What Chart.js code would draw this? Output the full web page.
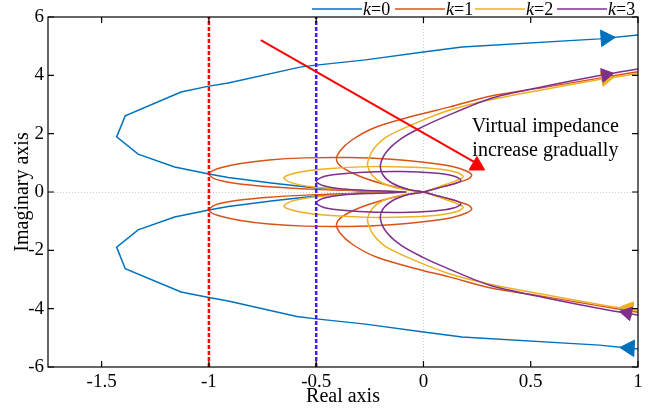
<!DOCTYPE html>
<html lang="en">
<head>
<meta charset="UTF-8">
<title>Nyquist plot</title>
<style>
    body { margin: 0; background: #fff; }
    #myChart { display: block; }
</style>
</head>
<body>
<canvas id="myChart" width="652" height="408"></canvas>
<script src="https://cdn.jsdelivr.net/npm/chart.js"></script>
<script>
// axis ticks
var xTicks = [-1.5, -1, -0.5, 0, 0.5, 1];
var yTicks = [-6, -4, -2, 0, 2, 4, 6];
var kLabels = ['0', '1', '2', '3'];

// k=0 : lower branch (w -> -inf) in towards the real axis, then out along the upper branch
var k0X = [1.0, 0.82, 0.18, 0.0, -0.27, -0.5, -0.59, -0.91, -1.0, -1.13, -1.39, -1.43, -1.33, -1.16, -1.0, -0.91, -0.7, -0.5, -0.3, -0.2,
           -0.3, -0.5, -0.7, -0.91, -1.0, -1.16, -1.33, -1.43, -1.39, -1.13, -1.0, -0.91, -0.57, -0.5, -0.27, 0.0, 0.18, 0.82, 1.0];
var k0Y = [-5.38, -5.25, -4.97, -4.8, -4.53, -4.35, -4.27, -3.74, -3.62, -3.43, -2.63, -1.89, -1.3, -0.86, -0.62, -0.5, -0.3, -0.14, -0.04, 0,
           0.04, 0.14, 0.3, 0.5, 0.62, 0.86, 1.3, 1.89, 2.61, 3.43, 3.63, 3.74, 4.29, 4.35, 4.53, 4.8, 4.97, 5.25, 5.38];

// k=1
var k1X = [1.0, 0.84, 0.55, 0.31, 0.12, -0.03, -0.22, -0.33, -0.39, -0.405, -0.38, -0.3, -0.2, -0.1, 0,
           0.07, 0.15, 0.21, 0.225, 0.2, 0.13, 0.0, -0.15, -0.35, -0.55, -0.72, -0.86, -0.96, -1.0, -0.97, -0.88, -0.72, -0.5, -0.3, -0.08,
           -0.3, -0.5, -0.72, -0.88, -0.97, -1.0, -0.96, -0.86, -0.72, -0.55, -0.35, -0.15, 0.0, 0.13, 0.2, 0.225, 0.21, 0.15, 0.07, 0,
           -0.1, -0.2, -0.3, -0.38, -0.405, -0.39, -0.33, -0.22, -0.03, 0.12, 0.31, 0.55, 0.84, 1.0];
var k1Y = [-4.12, -3.93, -3.57, -3.28, -2.91, -2.64, -2.23, -1.8, -1.4, -1.1, -0.85, -0.55, -0.3, -0.12, 0,
           0.15, 0.3, 0.45, 0.58, 0.72, 0.88, 1.02, 1.12, 1.18, 1.17, 1.1, 0.97, 0.8, 0.62, 0.44, 0.3, 0.18, 0.09, 0.04, 0,
           -0.04, -0.09, -0.18, -0.3, -0.44, -0.62, -0.8, -0.97, -1.1, -1.17, -1.18, -1.12, -1.02, -0.88, -0.72, -0.58, -0.45, -0.3, -0.15, 0,
           0.12, 0.3, 0.55, 0.85, 1.1, 1.4, 1.8, 2.23, 2.64, 2.91, 3.28, 3.57, 3.93, 4.12];

// k=2
var k2X = [1.0, 0.84, 0.55, 0.31, 0.12, -0.03, -0.17, -0.23, -0.255, -0.26, -0.24, -0.19, -0.1, 0,
           0.08, 0.15, 0.185, 0.16, 0.08, -0.05, -0.25, -0.45, -0.58, -0.65, -0.62, -0.52, -0.35, -0.2, -0.08,
           -0.2, -0.35, -0.52, -0.62, -0.65, -0.58, -0.45, -0.25, -0.05, 0.08, 0.16, 0.185, 0.15, 0.08, 0,
           -0.1, -0.19, -0.24, -0.26, -0.255, -0.23, -0.17, -0.03, 0.12, 0.31, 0.55, 0.84, 1.0];
var k2Y = [-4.06, -3.88, -3.5, -3.16, -2.8, -2.38, -1.9, -1.5, -1.15, -0.9, -0.58, -0.3, -0.1, 0,
           0.2, 0.38, 0.52, 0.66, 0.78, 0.85, 0.87, 0.8, 0.68, 0.5, 0.33, 0.18, 0.08, 0.03, 0,
           -0.03, -0.08, -0.18, -0.33, -0.5, -0.68, -0.8, -0.87, -0.85, -0.78, -0.66, -0.52, -0.38, -0.2, 0,
           0.1, 0.3, 0.58, 0.9, 1.15, 1.5, 1.9, 2.38, 2.8, 3.16, 3.5, 3.88, 4.06];

// k=3
var k3X = [1.0, 0.84, 0.55, 0.31, 0.09, 0.0, -0.1, -0.17, -0.2, -0.19, -0.145, -0.066, 0,
           0.07, 0.14, 0.175, 0.14, 0.05, -0.1, -0.3, -0.45, -0.5, -0.47, -0.38, -0.22, -0.08,
           -0.22, -0.38, -0.47, -0.5, -0.45, -0.3, -0.1, 0.05, 0.14, 0.175, 0.14, 0.07, 0,
           -0.066, -0.145, -0.19, -0.2, -0.17, -0.1, 0.0, 0.09, 0.31, 0.55, 0.84, 1.0];
var k3Y = [-4.22, -4.02, -3.6, -3.2, -2.55, -2.25, -1.85, -1.4, -0.95, -0.6, -0.3, -0.08, 0,
           0.14, 0.27, 0.4, 0.55, 0.65, 0.7, 0.67, 0.56, 0.38, 0.22, 0.1, 0.04, 0,
           -0.04, -0.1, -0.22, -0.38, -0.56, -0.67, -0.7, -0.65, -0.55, -0.4, -0.27, -0.14, 0,
           0.08, 0.3, 0.6, 0.95, 1.4, 1.85, 2.25, 2.55, 3.2, 3.6, 4.02, 4.22];

// direction arrows on each curve (upper one points out, lower one points in)
var k0ArrowX = [0.85, 0.96], k0ArrowY = [5.28, -5.35];
var k1ArrowX = [0.85, 0.955], k1ArrowY = [3.92, -4.02];
var k2ArrowX = [0.85, 0.955], k2ArrowY = [3.88, -3.98];
var k3ArrowX = [0.85, 0.95],  k3ArrowY = [4.02, -4.15];

// stability boundaries
var redLineX = [-1, -1], blueLineX = [-0.5, -0.5], boundY = [-6, 6];

// "virtual impedance increase" arrow: start, end of shaft, head
var trendX = [-0.758, 0.234], trendY = [5.21, 1.045];
var trendHeadX = [0.249], trendHeadY = [0.91];
var noteLines = ['Virtual impedance', 'increase gradually'];

var colors = ['#0072BD', '#D95319', '#EDB120', '#7E2F8E'];

function pts(xs, ys) {
    return xs.map(function(x, i) { return { x: x, y: ys[i] }; });
}

function curve(xs, ys, color, tension, order) {
    return { data: pts(xs, ys), showLine: true, borderColor: color, borderWidth: 1.5,
             pointRadius: 0, tension: tension, fill: false, order: order };
}

function arrows(xs, ys, color, rot, r, order) {
    return { data: pts(xs, ys), showLine: false, pointStyle: 'triangle', pointRadius: r,
             pointRotation: rot, backgroundColor: color, borderColor: color, borderWidth: 1, order: order };
}

var framePlugin = {
    id: 'frame',
    beforeDatasetsDraw: function(chart) {
        var ctx = chart.ctx, a = chart.chartArea;
        var x0 = Math.round(chart.scales.x.getPixelForValue(0)) + 0.5;
        var y0 = Math.round(chart.scales.y.getPixelForValue(0)) + 0.5;
        ctx.save();
        ctx.strokeStyle = '#cccccc';
        ctx.lineWidth = 1;
        ctx.setLineDash([1, 2]);
        ctx.beginPath();
        ctx.moveTo(x0, a.top); ctx.lineTo(x0, a.bottom);
        ctx.moveTo(a.left, y0); ctx.lineTo(a.right, y0);
        ctx.stroke();
        ctx.restore();
    },
    afterDatasetsDraw: function(chart) {
        var ctx = chart.ctx, a = chart.chartArea;
        var xs = chart.scales.x, ys = chart.scales.y;
        ctx.save();
        // box and inward ticks
        ctx.strokeStyle = '#000';
        ctx.lineWidth = 1.2;
        ctx.strokeRect(a.left, a.top, a.right - a.left, a.bottom - a.top);
        ctx.beginPath();
        xTicks.forEach(function(v) {
            var p = xs.getPixelForValue(v);
            ctx.moveTo(p, a.bottom); ctx.lineTo(p, a.bottom - 6);
            ctx.moveTo(p, a.top); ctx.lineTo(p, a.top + 6);
        });
        yTicks.forEach(function(v) {
            var p = ys.getPixelForValue(v);
            ctx.moveTo(a.left, p); ctx.lineTo(a.left + 6, p);
            ctx.moveTo(a.right, p); ctx.lineTo(a.right - 6, p);
        });
        ctx.stroke();

        // annotation
        ctx.fillStyle = '#000';
        ctx.font = '20px "Liberation Serif"';
        ctx.textAlign = 'left';
        ctx.textBaseline = 'alphabetic';
        ctx.fillText(noteLines[0], xs.getPixelForValue(0.225), ys.getPixelForValue(2.06));
        ctx.fillText(noteLines[1], xs.getPixelForValue(0.228), ys.getPixelForValue(1.23));

        // axis titles
        ctx.textAlign = 'center';
        ctx.fillText('Real axis', (a.left + a.right) / 2, 402);
        ctx.translate(28, (a.top + a.bottom) / 2);
        ctx.rotate(-Math.PI / 2);
        ctx.fillText('Imaginary axis', 0, 0);
        ctx.restore();

        // legend across the top
        ctx.save();
        var lx = [312, 395, 475, 557];
        ctx.textBaseline = 'alphabetic';
        ctx.textAlign = 'left';
        kLabels.forEach(function(k, i) {
            ctx.strokeStyle = colors[i];
            ctx.lineWidth = 1.5;
            ctx.beginPath();
            ctx.moveTo(lx[i], 9); ctx.lineTo(lx[i] + 50, 9);
            ctx.stroke();
            ctx.fillStyle = '#000';
            ctx.font = 'italic 18px "Liberation Serif"';
            ctx.fillText('k', lx[i] + 51, 15);
            var w = ctx.measureText('k').width;
            ctx.font = '18px "Liberation Serif"';
            ctx.fillText('=' + k, lx[i] + 51 + w, 15);
        });
        ctx.restore();
    }
};

function plainLabel(v) { return String(v); }

var config = {
    type: 'scatter',
    data: {
        datasets: [
            { data: pts(trendX, trendY), showLine: true, borderColor: '#FF0000', borderWidth: 2, pointRadius: 0, order: 0 },
            arrows(trendHeadX, trendHeadY, '#FF0000', [120], 9, 0),
            { data: pts(redLineX, boundY), showLine: true, borderColor: '#FF0000', borderWidth: 2.5,
              borderDash: [4, 2], pointRadius: 0, order: 1 },
            { data: pts(blueLineX, boundY), showLine: true, borderColor: '#3D1DF5', borderWidth: 2.5,
              borderDash: [4, 2], pointRadius: 0, order: 1 },
            curve(k3X, k3Y, colors[3], 0.3, 2),
            arrows(k3ArrowX, k3ArrowY, colors[3], [80, 282], 8, 2),
            curve(k2X, k2Y, colors[2], 0.3, 3),
            arrows(k2ArrowX, k2ArrowY, colors[2], [80, 280], 8, 3),
            curve(k1X, k1Y, colors[1], 0.3, 4),
            arrows(k1ArrowX, k1ArrowY, colors[1], [80, 280], 8, 4),
            curve(k0X, k0Y, colors[0], 0, 5),
            arrows(k0ArrowX, k0ArrowY, colors[0], [86, 273], 9.5, 5)
        ]
    },
    options: {
        responsive: false,
        animation: false,
        events: [],
        layout: { padding: { top: 17, right: 14, left: 0, bottom: 0 } },
        plugins: { legend: { display: false }, tooltip: { enabled: false } },
        scales: {
            x: {
                type: 'linear', min: -1.75, max: 1,
                grid: { display: false, drawTicks: false },
                border: { display: false },
                afterBuildTicks: function(s) { s.ticks = xTicks.map(function(v) { return { value: v }; }); },
                afterFit: function(s) { s.height = 41; },
                ticks: { color: '#000', padding: 4, maxRotation: 0, autoSkip: false, callback: plainLabel,
                         font: { family: 'Liberation Serif', size: 19 } }
            },
            y: {
                type: 'linear', min: -6, max: 6,
                grid: { display: false, drawTicks: false },
                border: { display: false },
                afterBuildTicks: function(s) { s.ticks = yTicks.map(function(v) { return { value: v }; }); },
                afterFit: function(s) { s.width = 48; },
                ticks: { color: '#000', padding: 4, autoSkip: false, callback: plainLabel,
                         font: { family: 'Liberation Serif', size: 19 } }
            }
        }
    },
    plugins: [framePlugin]
};

var ctx = document.getElementById('myChart').getContext('2d');
window.myChart = new Chart(ctx, config);
</script>
</body>
</html>
